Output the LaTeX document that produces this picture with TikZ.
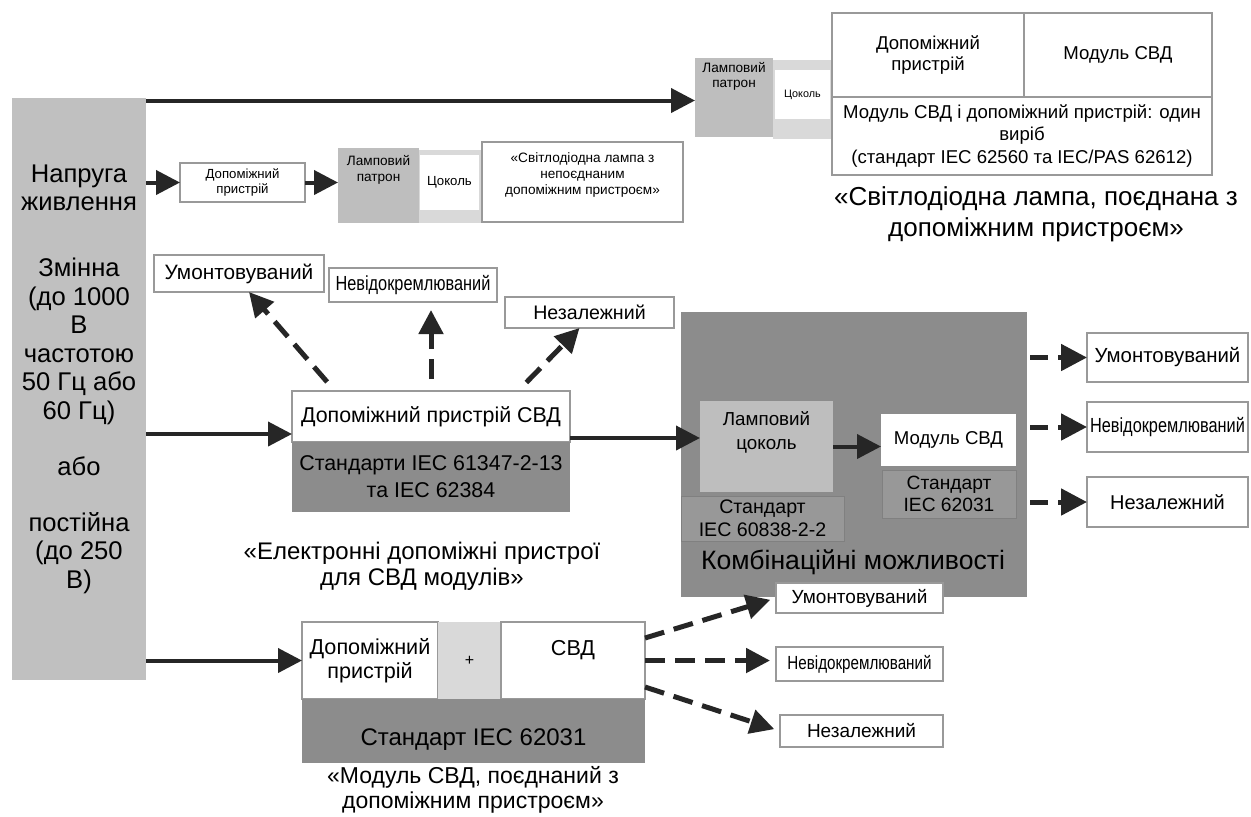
\documentclass[tikz,border=0pt]{standalone}
\usepackage{fontspec}
\setmainfont{Liberation Sans}
\usepackage{graphicx}
\usetikzlibrary{arrows.meta}
\definecolor{bargray}{RGB}{192,192,192}
\definecolor{dgray}{RGB}{140,140,140}
\definecolor{mgray}{RGB}{190,190,190}
\definecolor{lgray}{RGB}{217,217,217}
\definecolor{sgray}{RGB}{152,152,152}
\newcommand\fsz[2]{\fontsize{#1}{#2}\selectfont}
\newcommand\mkbox[7]{\node[minimum width={(#4-#2)*0.5pt}, minimum height={(#5-#3)*0.5pt}, inner sep=0pt, outer sep=0pt, anchor=center, #6] (#1) at ({(#2+#4)/2},{(#3+#5)/2}) {#7};}
\newcommand\cond[1]{\scalebox{0.8}[1]{#1}}
\begin{document}
\begin{tikzpicture}[x=0.5pt,y=-0.5pt,
  arr/.style={line width=2pt, draw=black!85, -{Triangle[length=12pt,width=12pt]}},
  darr/.style={line width=2.5pt, draw=black!85, dash pattern=on 10pt off 5pt, -{Triangle[length=12pt,width=12pt]}},
  darrr/.style={line width=2.5pt, draw=black!85, dash pattern=on 9pt off 5pt, -{Triangle[length=13pt,width=13pt]}},
  wbox/.style={draw=black!40, line width=0.6pt, fill=white},
  sbox/.style={fill=sgray, draw=black!50, line width=0.5pt, align=center},
  lbl/.style={anchor=north, align=center, inner sep=0pt},
  ctr/.style={anchor=center, align=center, inner sep=0pt}
]
\fill[white] (0,0) rectangle (1251,816);
\useasboundingbox (0,0) rectangle (1251,816);

% supply bar
\mkbox{bar}{12}{98}{146}{680}{fill=bargray}{}
\node[font=\fsz{12.8}{14.25}, align=center, anchor=north, inner sep=0pt] (bartxt) at (79,164)
  {Напруга\\живлення\\[18.75pt]Змінна\\(до 1000\\В\\частотою\\50 Гц або\\60 Гц)\\[13.75pt]або\\[13.75pt]постійна\\(до 250\\В)};

% ---- row 1 (top right)
\mkbox{lpA}{695}{58}{773}{137}{fill=mgray, label={[lbl, font=\fsz{6.8}{7.6}, yshift=-2pt]north:{Ламповий\\патрон}}}{}
\mkbox{bandA}{773}{60}{832}{139}{fill=lgray}{}
\mkbox{czA}{775}{70}{830}{119}{fill=white, font=\fsz{5.4}{6}}{Цоколь}
\mkbox{trA}{832}{13}{1024}{97}{wbox, align=center, font=\fsz{9.3}{10.5}}{Допоміжний\\пристрій}
\mkbox{trB}{1024}{13}{1212}{97}{wbox, font=\fsz{9.3}{10.5}}{Модуль СВД}
\mkbox{trC}{832}{97}{1212}{175}{wbox, align=center, font=\fsz{9.3}{11.2}}{Модуль СВД і допоміжний пристрій: один\\виріб\\(стандарт IEC 62560 та IEC/PAS 62612)}
\node[font=\fsz{13}{15.5}, align=center] (capA) at (1036,214) {«Світлодіодна лампа, поєднана з\\допоміжним пристроєм»};
\coordinate (inA) at ([yshift=-1.5pt]lpA.west);
\draw[arr] (inA -| bar.east) -- (inA);

% ---- row 2
\mkbox{auxB}{180}{163}{305}{202}{wbox, align=center, font=\fsz{6.6}{7.8}}{Допоміжний\\пристрій}
\mkbox{lpB}{338}{148}{419}{223}{fill=mgray, label={[lbl, font=\fsz{6.8}{8}, yshift=-3.5pt]north:{Ламповий\\патрон}}}{}
\mkbox{bandB}{419}{150}{482}{223}{fill=lgray}{}
\mkbox{czB}{420}{155}{479}{210}{fill=white, font=\fsz{6.6}{7.5}}{Цоколь}
\mkbox{lampB}{482}{142}{683}{222}{wbox, label={[lbl, font=\fsz{6.8}{8}, yshift=-5pt]north:{«Світлодіодна лампа з\\непоєднаним\\допоміжним пристроєм»}}}{}
\draw[arr] (auxB.west -| bar.east) -- (auxB.west);
\draw[arr] (auxB.east) -- (auxB.east -| lpB.west);

% ---- middle: electronic control gear
\mkbox{uA}{154}{255}{324}{292}{wbox, font=\fsz{10.4}{12}}{Умонтовуваний}
\mkbox{uB}{329}{268}{497}{302}{wbox, font=\fsz{10.2}{12}}{\cond{Невідокремлюваний}}
\mkbox{uC}{505}{297}{674}{328}{wbox, font=\fsz{9.8}{12}}{Незалежний}
\mkbox{midT}{292}{391}{570}{442}{wbox, font=\fsz{10.7}{12}}{Допоміжний пристрій СВД}
\mkbox{midB}{292}{442}{570}{512}{fill=dgray, align=center, font=\fsz{10.7}{13.5}}{Стандарти IEC 61347-2-13\\та IEC 62384}
\node[font=\fsz{12}{12.8}, align=center] (capB) at (422,566) {«Електронні допоміжні пристрої\\для СВД модулів»};
\coordinate (mIn) at ([yshift=4pt]midT.south west);
\draw[arr] (mIn -| bar.east) -- (mIn);
\coordinate (dA) at ([xshift=21.5pt]midT.north west);
\coordinate (dC) at ([xshift=-26pt]midT.north east);
\draw[darr, shorten <=6pt] (dA) -- ([xshift=5pt]uA.south);
\draw[darr, shorten <=6pt, shorten >=4pt] (midT.north) -- (midT.north |- uB.south);
\draw[darr, shorten <=6pt] (dC) -- ([xshift=-5pt]uC.south);

% ---- combination
\mkbox{comb}{681}{312}{1027}{597}{fill=dgray}{}
\mkbox{lampC}{700}{401}{833}{492}{fill=mgray, label={[lbl, font=\fsz{9.4}{12}, yshift=-5pt]north:{Ламповий\\цоколь}}}{}
\mkbox{stdC}{681}{496}{844}{541}{sbox, font=\fsz{9.8}{11.5}}{Стандарт\\IEC 60838-2-2}
\mkbox{modC}{881}{414}{1016}{466}{fill=white, font=\fsz{9.3}{11}}{Модуль СВД}
\mkbox{stdD}{882}{470}{1016}{518}{sbox, font=\fsz{9.6}{11}}{Стандарт\\IEC 62031}
\node[font=\fsz{13.3}{15}] (combT) at (853,562) {Комбінаційні можливості};
\coordinate (mOut) at ([yshift=2pt]midT.south east);
\draw[arr] (mOut) -- (mOut -| lampC.west);
\draw[arr] (lampC.east) -- (lampC.east -| modC.west);

\mkbox{rA}{1087}{333}{1248}{382}{wbox, font=\fsz{10.2}{12}}{Умонтовуваний}
\mkbox{rB}{1087}{402}{1248}{452}{wbox, font=\fsz{10.2}{12}}{\cond{Невідокремлюваний}}
\mkbox{rC}{1087}{477}{1248}{527}{wbox, font=\fsz{10}{12}}{Незалежний}
\draw[darrr, shorten <=1.5pt] (rA.west -| comb.east) -- (rA.west);
\draw[darrr, shorten <=1.5pt] (rB.west -| comb.east) -- (rB.west);
\draw[darrr, shorten <=1.5pt] (rC.west -| comb.east) -- (rC.west);

% ---- bottom: LED module with control gear
\mkbox{bAux}{302}{622}{438}{699}{wbox, align=center, font=\fsz{10.8}{12}}{Допоміжний\\пристрій}
\mkbox{bPlus}{438}{622}{501}{699}{fill=lgray, font=\fsz{8}{9}}{+}
\mkbox{bSvd}{501}{622}{645}{699}{wbox, label={[lbl, font=\fsz{10.8}{12}, yshift=-9pt]north:{СВД}}}{}
\mkbox{bStd}{302}{699}{645}{763}{fill=dgray, label={[ctr, font=\fsz{12}{13}, yshift=-4.5pt]center:{Стандарт IEC 62031}}}{}
\node[font=\fsz{11.5}{12.5}, align=center] (capC) at (473,790) {«Модуль СВД, поєднаний з\\допоміжним пристроєм»};
\draw[arr] (bAux.west -| bar.east) -- (bAux.west);

\mkbox{bA}{776}{583}{943}{613}{wbox, font=\fsz{9.5}{11}}{Умонтовуваний}
\mkbox{bB}{776}{647}{943}{681}{wbox, font=\fsz{9.5}{11}}{\cond{Невідокремлюваний}}
\mkbox{bC}{780}{715}{943}{747}{wbox, font=\fsz{9.5}{11}}{Незалежний}
\draw[darr, shorten >=3pt] ([yshift=-8pt]bSvd.north east) -- (bA.west);
\draw[darr, shorten >=3pt] (bSvd.east) -- (bSvd.east -| bB.west);
\draw[darr, shorten >=3pt] ([yshift=6pt]bSvd.south east) -- (bC.west);
\end{tikzpicture}
\end{document}
